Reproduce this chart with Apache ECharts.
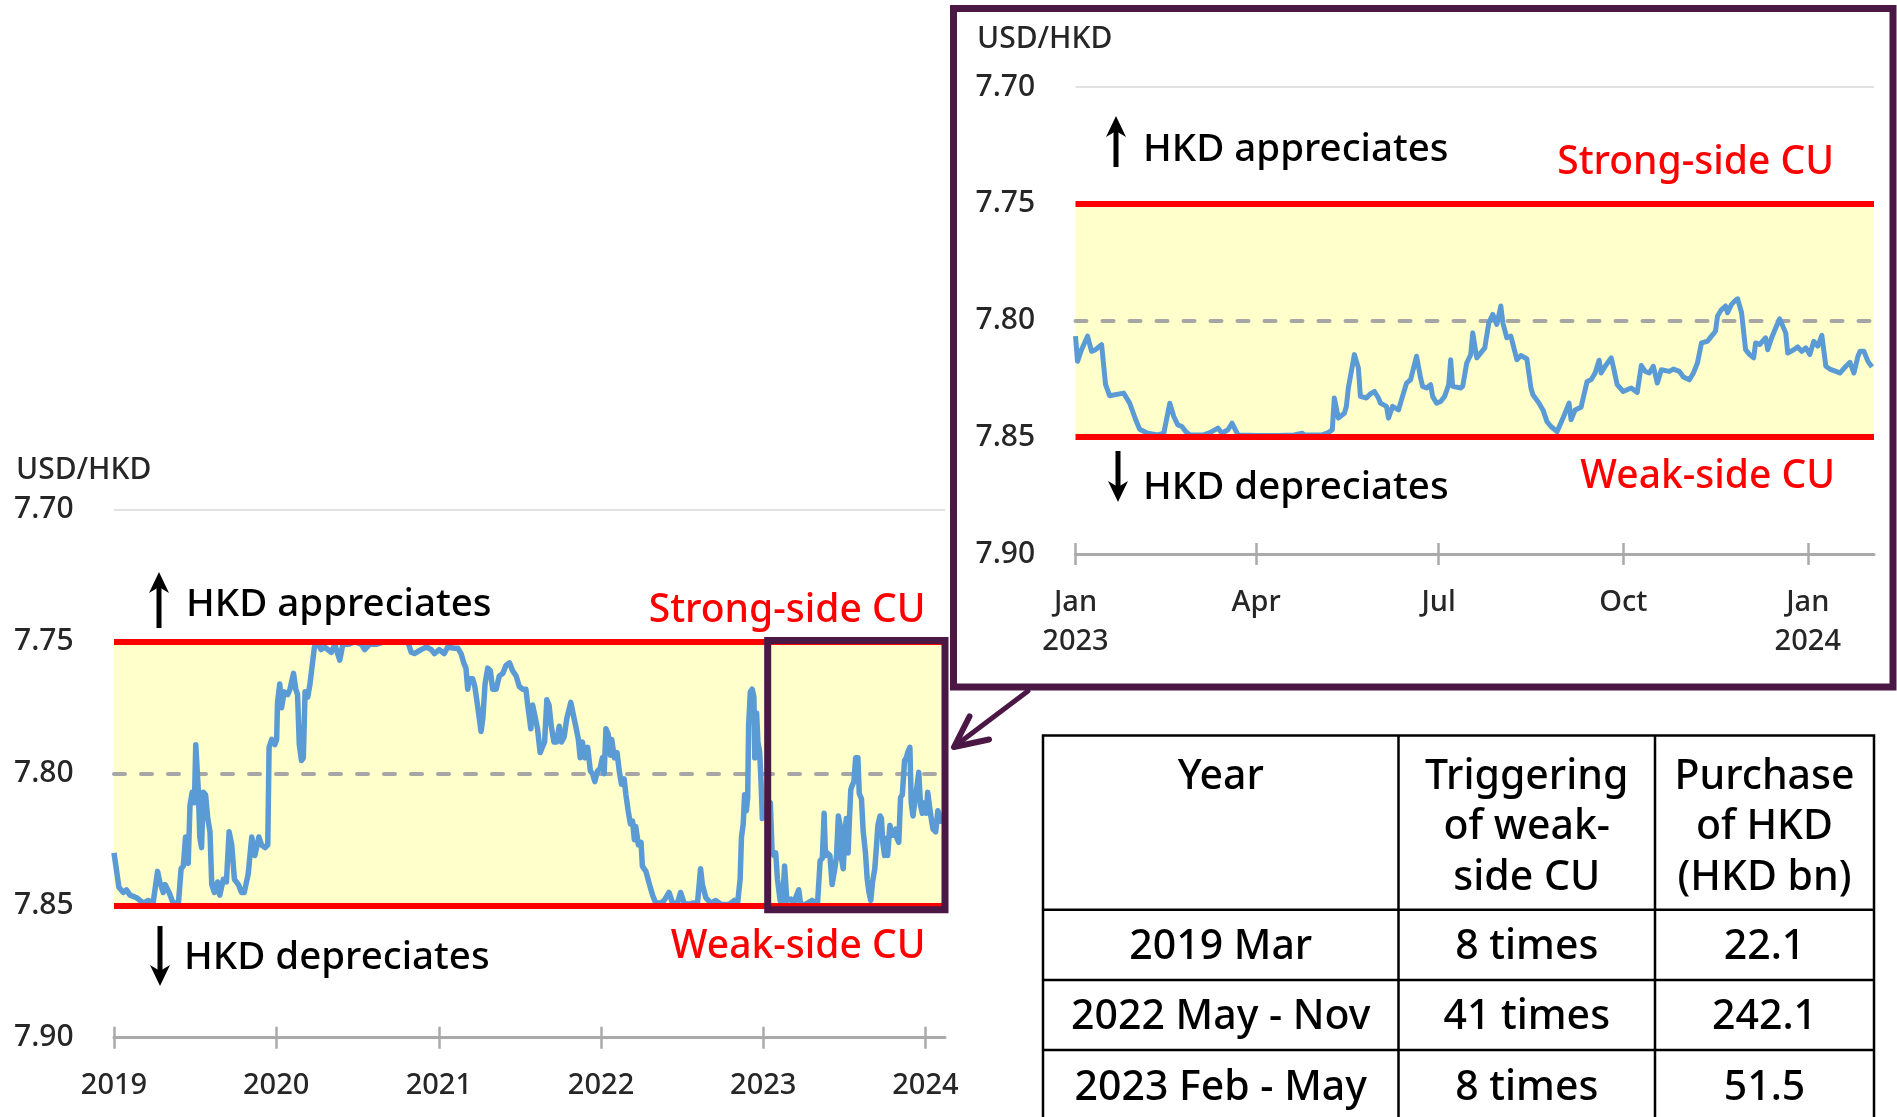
<!DOCTYPE html>
<html>
<head>
<meta charset="utf-8">
<title>USD/HKD and weak-side CU</title>
<script src="https://cdn.jsdelivr.net/npm/echarts@6.0.0/dist/echarts.min.js"></script>
<style>
  html, body { margin: 0; padding: 0; background: #fff; }
  #chart { width: 1897px; height: 1117px; }
</style>
</head>
<body>
<div id="chart"></div>
<script>
// USD/HKD spot rate, 2019 - Feb 2024
const mainDates = [
  '2019-01-01','2019-01-07','2019-01-12','2019-01-22','2019-01-29','2019-02-06','2019-02-21','2019-03-08','2019-03-19','2019-03-30',
  '2019-04-09','2019-04-14','2019-04-22','2019-04-26','2019-05-05','2019-05-14','2019-05-26','2019-06-01','2019-06-06','2019-06-11',
  '2019-06-17','2019-06-21','2019-06-26','2019-07-01','2019-07-04','2019-07-10','2019-07-13','2019-07-17','2019-07-21','2019-07-26',
  '2019-07-31','2019-08-05','2019-08-09','2019-08-15','2019-08-22','2019-08-27','2019-09-04','2019-09-11','2019-09-17','2019-09-23',
  '2019-09-29','2019-10-08','2019-10-15','2019-10-21','2019-10-30','2019-11-07','2019-11-14','2019-11-23','2019-11-29','2019-12-07',
  '2019-12-13','2019-12-16','2019-12-22','2019-12-29','2020-01-02','2020-01-04','2020-01-09','2020-01-13','2020-01-19','2020-01-27',
  '2020-02-01','2020-02-09','2020-02-14','2020-02-18','2020-02-22','2020-02-27','2020-03-02','2020-03-06','2020-03-12','2020-03-17',
  '2020-03-22','2020-03-27','2020-04-05','2020-04-11','2020-04-19','2020-05-04','2020-05-12','2020-05-23','2020-05-30','2020-06-11',
  '2020-06-26','2020-07-11','2020-07-18','2020-07-29','2020-08-13','2020-09-01','2020-09-23','2020-10-23','2020-10-31','2020-11-07',
  '2020-11-22','2020-12-04','2020-12-15','2020-12-22','2021-01-02','2021-01-13','2021-01-21','2021-02-05','2021-02-13','2021-02-20',
  '2021-02-26','2021-03-03','2021-03-07','2021-03-11','2021-03-18','2021-03-23','2021-03-29','2021-04-06','2021-04-10','2021-04-15',
  '2021-04-21','2021-04-27','2021-05-02','2021-05-10','2021-05-17','2021-05-25','2021-06-01','2021-06-09','2021-06-16','2021-06-24',
  '2021-07-01','2021-07-09','2021-07-16','2021-07-20','2021-07-27','2021-07-31','2021-08-05','2021-08-11','2021-08-17','2021-08-22',
  '2021-08-27','2021-09-01','2021-09-06','2021-09-11','2021-09-17','2021-09-23','2021-09-29','2021-10-04','2021-10-10','2021-10-16',
  '2021-10-25','2021-10-31','2021-11-05','2021-11-11','2021-11-15','2021-11-20','2021-11-26','2021-12-02','2021-12-08','2021-12-13',
  '2021-12-18','2021-12-24','2021-12-30','2022-01-04','2022-01-08','2022-01-12','2022-01-17','2022-01-22','2022-01-25','2022-01-31',
  '2022-02-06','2022-02-11','2022-02-16','2022-02-22','2022-02-26','2022-03-03','2022-03-08','2022-03-13','2022-03-17','2022-03-20',
  '2022-03-26','2022-04-01','2022-04-04','2022-04-12','2022-04-20','2022-04-27','2022-05-04','2022-05-15','2022-05-23','2022-06-03',
  '2022-06-11','2022-06-22','2022-06-29','2022-07-07','2022-07-18','2022-07-26','2022-08-06','2022-08-13','2022-08-17','2022-08-25',
  '2022-09-05','2022-09-16','2022-09-28','2022-10-16','2022-10-28','2022-11-04','2022-11-10','2022-11-13','2022-11-17','2022-11-20',
  '2022-11-24','2022-11-27','2022-11-29','2022-12-03','2022-12-07','2022-12-11','2022-12-13','2022-12-17','2022-12-20','2022-12-24',
  '2022-12-27','2022-12-30','2023-01-17','2023-01-21','2023-01-25','2023-01-29','2023-02-02','2023-02-08','2023-02-13','2023-02-18',
  '2023-02-23','2023-03-04','2023-03-11','2023-03-15','2023-03-22','2023-03-26','2023-04-06','2023-04-21','2023-05-03','2023-05-09',
  '2023-05-14','2023-05-18','2023-05-21','2023-05-25','2023-05-31','2023-06-05','2023-06-11','2023-06-15','2023-06-19','2023-06-23',
  '2023-06-26','2023-06-30','2023-07-04','2023-07-07','2023-07-11','2023-07-14','2023-07-17','2023-07-20','2023-07-24','2023-07-28',
  '2023-08-02','2023-08-05','2023-08-10','2023-08-14','2023-08-19','2023-08-23','2023-08-27','2023-08-31','2023-09-04','2023-09-09',
  '2023-09-13','2023-09-16','2023-09-21','2023-09-24','2023-09-27','2023-10-01','2023-10-05','2023-10-08','2023-10-13','2023-10-16',
  '2023-10-20','2023-10-26','2023-10-29','2023-11-02','2023-11-06','2023-11-10','2023-11-15','2023-11-19','2023-11-22','2023-11-27',
  '2023-11-30','2023-12-04','2023-12-07','2023-12-12','2023-12-17','2023-12-21','2023-12-25','2023-12-30','2024-01-03','2024-01-06',
  '2024-01-11','2024-01-15','2024-01-18','2024-01-24','2024-01-29','2024-02-02','2024-02-05'
];
const mainValues = [
  7.830,7.837,7.843,7.845,7.844,7.846,7.847,7.849,7.848,7.849,
  7.837,7.841,7.845,7.842,7.845,7.849,7.849,7.836,7.835,7.824,
  7.834,7.812,7.807,7.811,7.789,7.807,7.824,7.828,7.807,7.808,
  7.817,7.822,7.842,7.845,7.841,7.846,7.840,7.841,7.822,7.827,
  7.840,7.842,7.845,7.845,7.838,7.824,7.831,7.824,7.827,7.828,
  7.827,7.790,7.787,7.789,7.787,7.773,7.766,7.775,7.769,7.770,
  7.768,7.762,7.768,7.770,7.789,7.795,7.794,7.769,7.771,7.766,
  7.759,7.752,7.751,7.753,7.752,7.754,7.751,7.757,7.751,7.751,
  7.750,7.751,7.753,7.751,7.751,7.750,7.750,7.750,7.754,7.7545,
  7.753,7.752,7.753,7.7545,7.753,7.7545,7.752,7.7525,7.7525,7.7545,
  7.758,7.760,7.768,7.764,7.764,7.767,7.774,7.784,7.779,7.766,
  7.760,7.761,7.768,7.768,7.763,7.762,7.759,7.758,7.761,7.763,
  7.767,7.768,7.768,7.774,7.783,7.774,7.778,7.783,7.792,7.790,
  7.788,7.772,7.774,7.782,7.788,7.788,7.782,7.788,7.786,7.779,
  7.773,7.778,7.782,7.787,7.794,7.788,7.794,7.790,7.799,7.800,
  7.803,7.799,7.798,7.794,7.800,7.783,7.785,7.793,7.787,7.794,
  7.792,7.799,7.804,7.802,7.808,7.814,7.819,7.818,7.825,7.820,
  7.827,7.826,7.835,7.837,7.842,7.846,7.849,7.849,7.848,7.845,
  7.849,7.849,7.845,7.849,7.8495,7.849,7.849,7.836,7.842,7.847,
  7.849,7.848,7.8495,7.8495,7.848,7.8495,7.840,7.824,7.819,7.808,
  7.814,7.809,7.782,7.769,7.768,7.771,7.794,7.777,7.788,7.792,
  7.803,7.817,7.811,7.830,7.831,7.830,7.840,7.848,7.8495,7.835,
  7.848,7.8475,7.8495,7.847,7.844,7.8495,7.8495,7.848,7.8495,7.833,
  7.832,7.815,7.831,7.830,7.831,7.842,7.836,7.831,7.816,7.8195,
  7.832,7.836,7.822,7.817,7.830,7.817,7.806,7.8045,7.803,7.794,
  7.794,7.8075,7.8095,7.822,7.830,7.840,7.845,7.848,7.841,7.836,
  7.827,7.8195,7.816,7.817,7.826,7.831,7.8245,7.831,7.8195,7.822,
  7.8233,7.821,7.8245,7.826,7.809,7.808,7.795,7.794,7.792,7.790,
  7.811,7.816,7.812,7.806,7.7995,7.812,7.815,7.811,7.815,7.807,
  7.8135,7.818,7.821,7.822,7.814,7.816,7.819
];

// USD/HKD, Jan 2023 - Feb 2024
const insetDates = [
  '2023-01-01','2023-01-02','2023-01-04','2023-01-07','2023-01-09','2023-01-11','2023-01-14','2023-01-16','2023-01-18','2023-01-25',
  '2023-01-28','2023-01-31','2023-02-02','2023-02-06','2023-02-11','2023-02-14','2023-02-17','2023-02-19','2023-02-21','2023-02-23',
  '2023-02-25','2023-02-27','2023-03-06','2023-03-09','2023-03-13','2023-03-15','2023-03-18','2023-03-20','2023-03-23','2023-04-02',
  '2023-04-12','2023-04-20','2023-04-24','2023-04-25','2023-05-04','2023-05-07','2023-05-09','2023-05-10','2023-05-12','2023-05-15',
  '2023-05-16','2023-05-17','2023-05-20','2023-05-22','2023-05-23','2023-05-26','2023-05-28','2023-05-30','2023-06-01','2023-06-02',
  '2023-06-05','2023-06-06','2023-06-08','2023-06-11','2023-06-12','2023-06-15','2023-06-17','2023-06-20','2023-06-22','2023-06-23',
  '2023-06-25','2023-06-27','2023-06-28','2023-06-30','2023-07-02','2023-07-04','2023-07-06','2023-07-07','2023-07-08','2023-07-12',
  '2023-07-13','2023-07-15','2023-07-17','2023-07-18','2023-07-20','2023-07-24','2023-07-26','2023-07-28','2023-07-30','2023-08-01',
  '2023-08-02','2023-08-04','2023-08-06','2023-08-09','2023-08-11','2023-08-14','2023-08-16','2023-08-17','2023-08-20','2023-08-22',
  '2023-08-24','2023-08-26','2023-08-29','2023-09-01','2023-09-04','2023-09-05','2023-09-07','2023-09-10','2023-09-13','2023-09-15',
  '2023-09-17','2023-09-19','2023-09-20','2023-09-22','2023-09-25','2023-09-26','2023-09-28','2023-10-01','2023-10-05','2023-10-08',
  '2023-10-10','2023-10-12','2023-10-14','2023-10-16','2023-10-18','2023-10-20','2023-10-24','2023-10-26','2023-10-29','2023-10-31',
  '2023-11-03','2023-11-05','2023-11-07','2023-11-09','2023-11-12','2023-11-14','2023-11-16','2023-11-17','2023-11-19','2023-11-21',
  '2023-11-22','2023-11-24','2023-11-26','2023-11-27','2023-11-29','2023-12-01','2023-12-03','2023-12-05','2023-12-06','2023-12-08',
  '2023-12-11','2023-12-12','2023-12-14','2023-12-16','2023-12-18','2023-12-21','2023-12-22','2023-12-25','2023-12-27','2023-12-29',
  '2023-12-31','2024-01-02','2024-01-04','2024-01-06','2024-01-08','2024-01-10','2024-01-12','2024-01-15','2024-01-17','2024-01-20',
  '2024-01-22','2024-01-24','2024-01-26','2024-01-27','2024-01-29','2024-01-31','2024-02-02'
];
const insetValues = [
  7.8067,7.8175,7.8125,7.8067,7.8132,7.8125,7.8103,7.8275,7.8322,7.8311,
  7.8354,7.8425,7.8466,7.8483,7.8490,7.8483,7.8354,7.8411,7.8447,7.8454,
  7.8476,7.8490,7.8490,7.8480,7.8461,7.8483,7.8468,7.8440,7.8490,7.8493,
  7.8493,7.8490,7.8483,7.8490,7.8490,7.8480,7.8468,7.8332,7.8418,7.8397,
  7.8368,7.8289,7.8146,7.8203,7.8325,7.8332,7.8314,7.8304,7.8332,7.8354,
  7.8368,7.8418,7.8368,7.8383,7.8354,7.8268,7.8254,7.8153,7.8246,7.8282,
  7.8289,7.8275,7.8325,7.8354,7.8347,7.8325,7.8275,7.8168,7.8282,7.8289,
  7.8282,7.8182,7.8146,7.8053,7.8160,7.8117,7.8010,7.7974,7.8017,7.7938,
  7.8010,7.8074,7.8067,7.8168,7.8150,7.8165,7.8289,7.8318,7.8354,7.8383,
  7.8433,7.8454,7.8476,7.8418,7.8354,7.8425,7.8383,7.8371,7.8261,7.8254,
  7.8225,7.8170,7.8225,7.8196,7.8160,7.8196,7.8275,7.8304,7.8289,7.8308,
  7.8193,7.8218,7.8225,7.8196,7.8268,7.8211,7.8218,7.8208,7.8218,7.8242,
  7.8254,7.8225,7.8182,7.8096,7.8089,7.8067,7.8046,7.7981,7.7953,7.7938,
  7.7967,7.7931,7.7913,7.7907,7.7967,7.8125,7.8146,7.8160,7.8096,7.8103,
  7.8074,7.8125,7.8074,7.8032,7.7993,7.8053,7.8139,7.8125,7.8113,7.8132,
  7.8117,7.8146,7.8089,7.8110,7.8064,7.8196,7.8208,7.8218,7.8225,7.8196,
  7.8179,7.8225,7.8153,7.8132,7.8132,7.8175,7.8199
];

const strongSide = 7.75;
const weakSide = 7.85;
const midRate = 7.80;
const yTicks = [7.70, 7.75, 7.80, 7.85, 7.90];
const yTickLabels = ['7.70', '7.75', '7.80', '7.85', '7.90'];

const mainStart = '2019-01-01';
const mainEnd = '2024-02-14';
const mainTickDates = ['2019-01-01', '2020-01-01', '2021-01-01', '2022-01-01', '2023-01-01', '2024-01-01'];
const mainTickLabels = ['2019', '2020', '2021', '2022', '2023', '2024'];
const zoomFrom = '2023-01-11';

const insetStart = '2023-01-01';
const insetEnd = '2024-02-03';
const insetTickDates = ['2023-01-01', '2023-04-01', '2023-07-01', '2023-10-01', '2024-01-01'];
const insetTickLabels = ['Jan\n2023', 'Apr', 'Jul', 'Oct', 'Jan\n2024'];

const tableHead = ['Year', 'Triggering\nof weak-\nside CU', 'Purchase\nof HKD\n(HKD bn)'];
const tablePeriods = ['2019 Mar', '2022 May - Nov', '2023 Feb - May'];
const tableTimes = ['8 times', '41 times', '8 times'];
const tablePurchase = ['22.1', '242.1', '51.5'];

const FONT = '"Noto Sans", "Open Sans", sans-serif';
const PURPLE = '#4B1846';
const BLUE = '#5B9BD5';
const RED = '#FF0000';
const AXIS_GREY = '#AAAAAA';
const INK = '#262626';

function days(d, base) {
  return (Date.parse(d) - Date.parse(base)) / 86400000;
}

const mainData = mainDates.map((d, i) => [days(d, mainStart), mainValues[i]]);
const insetData = insetDates.map((d, i) => [days(d, insetStart), insetValues[i]]);
const mainTicks = mainTickDates.map(d => days(d, mainStart));
const insetTicks = insetTickDates.map(d => days(d, insetStart));

function xAxisPair(gridIndex, max, ticks, labels) {
  const common = {
    type: 'value', gridIndex: gridIndex, min: 0, max: max, position: 'bottom',
    splitLine: { show: false }
  };
  return [
    Object.assign({}, common, {
      axisLine: { onZero: false, lineStyle: { color: AXIS_GREY, width: 3 } },
      axisTick: { customValues: ticks, length: 11, lineStyle: { color: AXIS_GREY, width: 2.5 } },
      axisLabel: {
        customValues: ticks,
        formatter: v => { const k = ticks.indexOf(v); return k < 0 ? '' : labels[k]; },
        margin: 29, fontSize: 29, fontWeight: 500, lineHeight: 39, color: INK, fontFamily: FONT
      }
    }),
    Object.assign({}, common, {
      axisLine: { show: false },
      axisTick: { inside: true, customValues: ticks, length: 11, lineStyle: { color: AXIS_GREY, width: 2.5 } },
      axisLabel: { show: false }
    })
  ];
}

function yAxisFor(gridIndex) {
  return {
    type: 'value', gridIndex: gridIndex, inverse: true,
    min: yTicks[0], max: yTicks[yTicks.length - 1], interval: 0.05,
    axisLine: { show: false }, axisTick: { show: false }, splitLine: { show: false },
    axisLabel: {
      align: 'left', margin: 100, fontSize: 30, fontWeight: 500, color: INK, fontFamily: FONT,
      padding: [5, 0, 0, 0],
      formatter: v => { const k = yTicks.findIndex(t => Math.abs(t - v) < 1e-6); return k < 0 ? '' : yTickLabels[k]; }
    }
  };
}

// band, reference lines and the rate line for one panel
function panelSeries(axisBase, yIndex, data, lineWidth, extraArea) {
  const series = [
    {
      type: 'line', xAxisIndex: axisBase, yAxisIndex: yIndex, data: [], silent: true,
      markArea: { silent: true, z: 0, itemStyle: { color: '#FFFFCC' }, data: [[{ yAxis: strongSide }, { yAxis: weakSide }]] },
      markLine: {
        silent: true, z: 1, symbol: 'none', label: { show: false },
        data: [
          { yAxis: yTicks[0], lineStyle: { color: '#D9D9D9', width: 1.5, type: 'solid' } },
          { yAxis: midRate, lineStyle: { color: '#A6A6A6', width: 4, type: [11, 16], cap: 'round' } }
        ]
      }
    },
    {
      type: 'line', xAxisIndex: axisBase, yAxisIndex: yIndex, data: data, z: 3,
      showSymbol: false, symbol: 'none',
      lineStyle: { color: BLUE, width: lineWidth, join: 'round' }
    },
    {
      type: 'line', xAxisIndex: axisBase, yAxisIndex: yIndex, data: [], silent: true, clip: false,
      markLine: {
        silent: true, z: 5, symbol: 'none', label: { show: false },
        lineStyle: { color: RED, width: 6, type: 'solid' },
        data: [{ yAxis: strongSide }, { yAxis: weakSide }]
      }
    }
  ];
  if (extraArea) {
    series[2].markArea = extraArea;
  }
  return series;
}

function label(text, x, y, size, color, align, weight) {
  return {
    type: 'text', z: 10,
    style: {
      text: text, x: x, y: y, fill: color, fontSize: size, fontFamily: FONT, fontWeight: weight || 500,
      align: align, textAlign: align, verticalAlign: 'middle', textVerticalAlign: 'middle'
    }
  };
}

function arrow(x, yTail, yTip) {
  const dir = yTip < yTail ? 1 : -1;
  const hw = 10, hh = 21;
  return [
    { type: 'line', z: 10, shape: { x1: x, y1: yTail, x2: x, y2: yTip + dir * 10 }, style: { stroke: '#000', lineWidth: 5 } },
    {
      type: 'polygon', z: 10,
      shape: { points: [[x, yTip], [x + hw, yTip + dir * hh], [x, yTip + dir * hh * 0.72], [x - hw, yTip + dir * hh]] },
      style: { fill: '#000' }
    }
  ];
}

// summary table
function tableElements() {
  const left = 1043, right = 1874, top = 735.6, bottom = 1130;
  const cols = [left, 1398.5, 1655, right];
  const rows = [909.8, 980, 1050];
  const els = [];
  const stroke = { stroke: '#000', lineWidth: 2.5 };
  els.push({ type: 'rect', z: 10, shape: { x: left, y: top, width: right - left, height: bottom - top }, style: Object.assign({ fill: '#fff' }, stroke) });
  cols.slice(1, 3).forEach(x => els.push({ type: 'line', z: 11, shape: { x1: x, y1: top, x2: x, y2: bottom }, style: stroke }));
  rows.forEach(y => els.push({ type: 'line', z: 11, shape: { x1: left, y1: y, x2: right, y2: y }, style: stroke }));
  const centre = i => (cols[i] + cols[i + 1]) / 2;
  tableHead.forEach((h, i) => {
    h.split('\n').forEach((line, j) => els.push(label(line, centre(i), 777 + j * 50.5, 41, '#000', 'center')));
  });
  const rowMid = [947.5, 1017.5, 1088.5];
  [tablePeriods, tableTimes, tablePurchase].forEach((col, i) => {
    col.forEach((t, r) => els.push(label(t, centre(i), rowMid[r], 41, '#000', 'center')));
  });
  return els;
}

const chart = echarts.init(document.getElementById('chart'));

const zoomBox = {
  silent: true, z: 6,
  itemStyle: { color: 'rgba(0,0,0,0)', borderColor: PURPLE, borderWidth: 7 },
  data: [[{ coord: [days(zoomFrom, mainStart), 7.7495] }, { coord: [days(mainEnd, mainStart), 7.8515] }]]
};

const option = {
  animation: false,
  backgroundColor: '#fff',
  textStyle: { fontFamily: FONT },
  grid: [
    { left: 114, top: 509.7, width: 831, height: 528 },
    { left: 1075.5, top: 87, width: 798.5, height: 467 }
  ],
  xAxis: []
    .concat(xAxisPair(0, days(mainEnd, mainStart), mainTicks, mainTickLabels))
    .concat(xAxisPair(1, days(insetEnd, insetStart), insetTicks, insetTickLabels)),
  yAxis: [yAxisFor(0), yAxisFor(1)],
  series: []
    .concat(panelSeries(0, 0, mainData, 5.5, zoomBox))
    .concat(panelSeries(2, 1, insetData, 5, null)),
  graphic: {
    elements: [
      label('USD/HKD', 16, 470, 30, INK, 'left'),
      label('USD/HKD', 977, 39, 30, INK, 'left'),
      label('HKD appreciates', 186, 605, 38.5, '#000', 'left'),
      label('HKD depreciates', 184, 958.5, 38.5, '#000', 'left'),
      label('Strong-side CU', 925.5, 611, 39, RED, 'right'),
      label('Weak-side CU', 925.5, 946.5, 39, RED, 'right'),
      label('HKD appreciates', 1143, 150, 38.5, '#000', 'left'),
      label('HKD depreciates', 1143, 488.5, 38.5, '#000', 'left'),
      label('Strong-side CU', 1834, 163, 39, RED, 'right'),
      label('Weak-side CU', 1835, 477, 39, RED, 'right'),
      {
        type: 'rect', z: 10,
        shape: { x: 953.5, y: 8.5, width: 1893 - 953.5, height: 687 - 8.5 },
        style: { fill: 'rgba(0,0,0,0)', stroke: PURPLE, lineWidth: 7 }
      },
      { type: 'line', z: 10, shape: { x1: 1028, y1: 691, x2: 955, y2: 746 }, style: { stroke: PURPLE, lineWidth: 5, lineCap: 'round' } },
      {
        type: 'polyline', z: 10,
        shape: { points: [[969.5, 716.5], [954, 747], [989, 739.5]] },
        style: { stroke: PURPLE, lineWidth: 6, lineCap: 'round', lineJoin: 'round', fill: null }
      }
    ]
      .concat(arrow(159, 628, 572))
      .concat(arrow(160, 926, 986))
      .concat(arrow(1116, 167, 116))
      .concat(arrow(1118, 451, 502))
      .concat(tableElements())
  }
};

chart.setOption(option);
</script>
</body>
</html>
